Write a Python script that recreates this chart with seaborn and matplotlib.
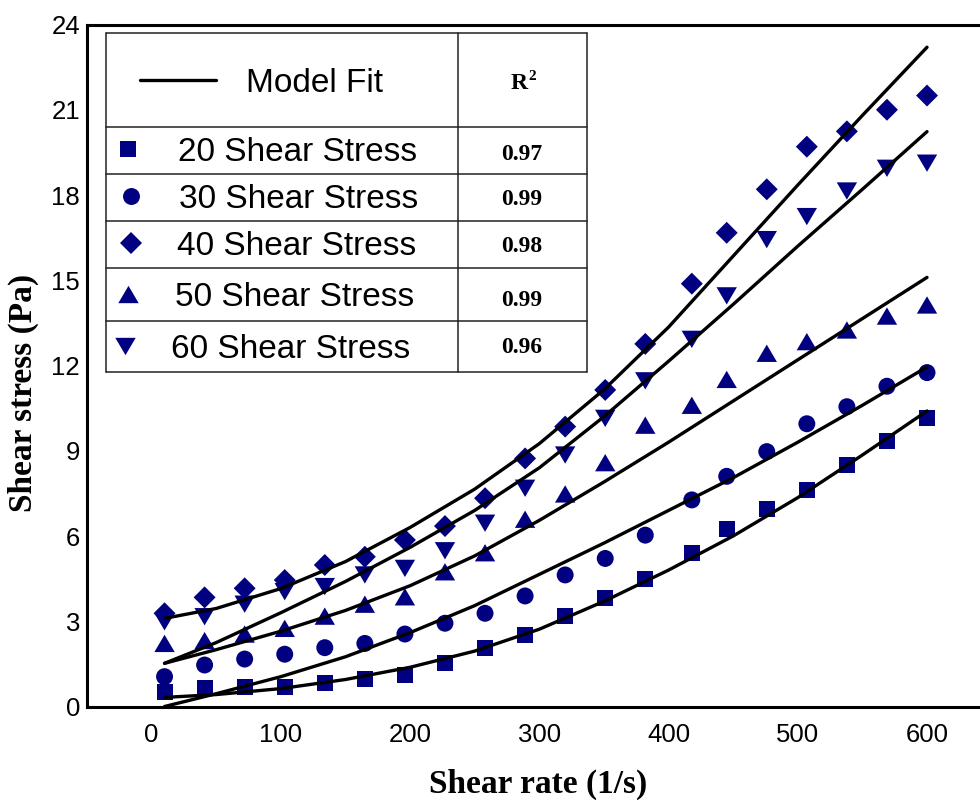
import numpy as np
import pandas as pd
import matplotlib
matplotlib.use("Agg")
import matplotlib.pyplot as plt
import seaborn as sns
from matplotlib.path import Path

# ---------------- data ----------------
shear_rate = [10, 41, 72, 103, 134, 165, 196, 227, 258, 289, 320, 351, 382, 418,
              445, 476, 507, 538, 569, 600]
stress_20 = [0.52, 0.64, 0.68, 0.68, 0.84, 0.96, 1.11, 1.54, 2.05, 2.52, 3.18, 3.81,
             4.48, 5.41, 6.23, 6.94, 7.62, 8.50, 9.35, 10.15]
stress_30 = [1.05, 1.46, 1.67, 1.84, 2.07, 2.22, 2.55, 2.93, 3.28, 3.89, 4.63, 5.21,
             6.03, 7.27, 8.10, 8.97, 9.95, 10.55, 11.27, 11.75]
stress_40 = [3.28, 3.84, 4.16, 4.45, 4.98, 5.27, 5.86, 6.35, 7.33, 8.73, 9.85, 11.14,
             12.76, 14.88, 16.67, 18.20, 19.70, 20.24, 21.00, 21.50]
stress_50 = [2.22, 2.32, 2.55, 2.75, 3.18, 3.60, 3.86, 4.74, 5.41, 6.59, 7.48, 8.58,
             9.90, 10.60, 11.51, 12.43, 12.84, 13.25, 13.74, 14.13]
stress_60 = [2.98, 3.16, 3.60, 4.04, 4.22, 4.63, 4.86, 5.48, 6.45, 7.68, 8.85, 10.14,
             11.46, 12.92, 14.45, 16.43, 17.24, 18.14, 18.94, 19.12]

fit_x = [10, 50, 100, 150, 200, 250, 300, 350, 400, 450, 500, 550, 600]
fit_20 = [0.32, 0.42, 0.63, 0.95, 1.38, 1.95, 2.72, 3.70, 4.80, 6.00, 7.35, 8.85, 10.40]
fit_30 = [0.00, 0.45, 1.05, 1.75, 2.60, 3.55, 4.65, 5.75, 6.90, 8.05, 9.30, 10.60, 11.95]
fit_40 = [3.10, 3.45, 4.15, 5.10, 6.30, 7.65, 9.25, 11.15, 13.35, 15.85, 18.35, 20.80, 23.20]
fit_50 = [1.52, 2.00, 2.65, 3.38, 4.25, 5.30, 6.55, 7.90, 9.30, 10.75, 12.20, 13.65, 15.10]
fit_60 = [1.52, 2.25, 3.30, 4.40, 5.60, 6.90, 8.40, 10.20, 12.15, 14.15, 16.20, 18.20, 20.23]

series_labels = ["20 Shear Stress", "30 Shear Stress", "40 Shear Stress",
                 "50 Shear Stress", "60 Shear Stress"]
r2_values = ["0.97", "0.99", "0.98", "0.99", "0.96"]
x_ticks = [0, 100, 200, 300, 400, 500, 600]
y_ticks = [0, 3, 6, 9, 12, 15, 18, 21, 24]

# ---------------- style ----------------
sns.set_style("white")
plt.rcParams["font.family"] = ["Liberation Sans", "DejaVu Sans"]
plt.rcParams["text.color"] = "black"
plt.rcParams["axes.labelcolor"] = "black"
plt.rcParams["xtick.color"] = "black"
plt.rcParams["ytick.color"] = "black"

W, H = 980, 801
fig = plt.figure(figsize=(W / 100, H / 100), dpi=100)
ax = fig.add_axes([87 / W, (H - 706.5) / H, (W - 87) / W, (706.5 - 24.5) / H])

navy = "#000080"
tri_up = Path([(-1, -0.85), (1, -0.85), (0, 0.85), (-1, -0.85)],
              [Path.MOVETO, Path.LINETO, Path.LINETO, Path.CLOSEPOLY])
tri_dn = Path([(-1, 0.85), (1, 0.85), (0, -0.85), (-1, 0.85)],
              [Path.MOVETO, Path.LINETO, Path.LINETO, Path.CLOSEPOLY])
markers = ["s", "o", "D", tri_up, tri_dn]
sizes = [132, 149, 125, 215, 215]

series = [stress_20, stress_30, stress_40, stress_50, stress_60]
fits = [fit_20, fit_30, fit_40, fit_50, fit_60]

for lab, ys, mk, sz in zip(series_labels, series, markers, sizes):
    df = pd.DataFrame({"rate": shear_rate, "stress": ys})
    sns.scatterplot(data=df, x="rate", y="stress", ax=ax, marker=mk, s=sz,
                    color=navy, edgecolor="none", linewidth=0, zorder=2,
                    legend=False)

for fyv in fits:
    dfl = pd.DataFrame({"rate": fit_x, "stress": fyv})
    sns.lineplot(data=dfl, x="rate", y="stress", ax=ax, color="black",
                 linewidth=2.4, estimator=None, sort=False, zorder=3,
                 legend=False)

ax.set_xlim(-50, 641)
ax.set_ylim(0, 24)
ax.set_xticks(x_ticks)
ax.set_yticks(y_ticks)
ax.tick_params(axis="both", length=0, labelsize=18.5, colors="black",
               labelcolor="black")
ax.tick_params(axis="x", pad=12)
ax.tick_params(axis="y", pad=5)

for side in ["left", "bottom", "top"]:
    ax.spines[side].set_visible(True)
    ax.spines[side].set_color("black")
    ax.spines[side].set_linewidth(2.2)
ax.spines["right"].set_visible(False)

serif = ["Liberation Serif", "DejaVu Serif"]
ax.set_xlabel("Shear rate (1/s)", fontsize=24, fontweight="bold", color="black",
              family=serif)
ax.set_ylabel("Shear stress (Pa)", fontsize=24, fontweight="bold", color="black",
              family=serif)
ax.xaxis.set_label_coords(0.505, -0.092)
ax.yaxis.set_label_coords(-0.054, 0.46)

# ---------------- table-like legend (pixel layout) ----------------
def fx(px):
    return px / W


def fy(py):
    return 1 - py / H


tl, tr, tdiv = 106, 587, 458
row_lines = [33, 127, 174, 221, 268, 321, 372]
lc = "#222222"
lw_t = 1.1
for ry in row_lines:
    ax.plot([fx(tl), fx(tr)], [fy(ry), fy(ry)], transform=fig.transFigure,
            color=lc, lw=lw_t, clip_on=False, zorder=5)
for cx in [tl, tdiv, tr]:
    ax.plot([fx(cx), fx(cx)], [fy(row_lines[0]), fy(row_lines[-1])],
            transform=fig.transFigure, color=lc, lw=lw_t, clip_on=False, zorder=5)

# header row
ax.plot([fx(140), fx(216)], [fy(80), fy(80)], transform=fig.transFigure,
        color="black", lw=2.4, clip_on=False, zorder=5)
fig.text(fx(246), fy(80), "Model Fit", fontsize=24, ha="left",
         va="center_baseline", color="black")
fig.text(fx(528), fy(81), "R", fontsize=17, fontweight="bold", ha="right",
         va="center_baseline", color="black", family=serif)
fig.text(fx(528.5), fy(75), "2", fontsize=11, fontweight="bold", ha="left",
         va="center_baseline", color="black", family=serif)

row_y = [149, 196, 243, 294, 346]
mk_x = [128, 131, 131, 128, 125]
txt_x = [178, 179, 177, 175, 171]
r2_y = [152, 197, 244, 298, 345]
leg_ms = [11.5, 12.2, 11.2, 14.7, 14.7]
for i in range(5):
    ax.plot([fx(mk_x[i])], [fy(row_y[i])], transform=fig.transFigure,
            marker=markers[i], ms=leg_ms[i], color=navy, mew=0, ls="none",
            clip_on=False, zorder=6)
    fig.text(fx(txt_x[i]), fy(row_y[i]), series_labels[i], fontsize=24,
             ha="left", va="center_baseline", color="black")
    fig.text(fx(522), fy(r2_y[i]), r2_values[i], fontsize=17, fontweight="bold",
             ha="center", va="center_baseline", color="black", family=serif)

fig.savefig("out.png", dpi=100)
